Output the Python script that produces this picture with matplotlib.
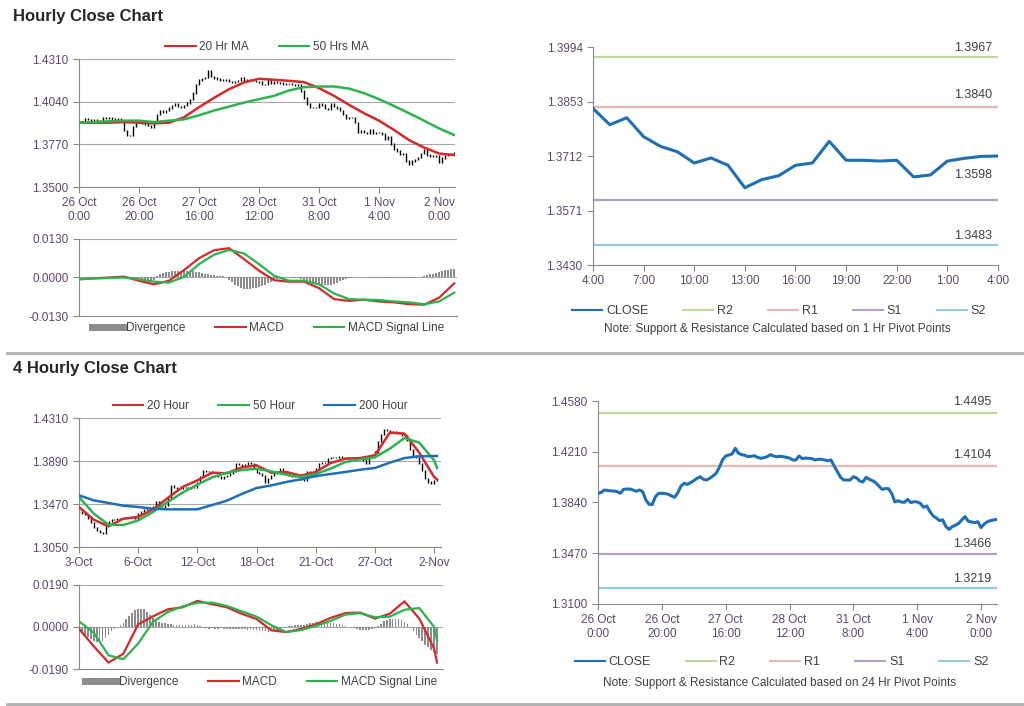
import numpy as np
import matplotlib
matplotlib.use("Agg")
import matplotlib.pyplot as plt
from matplotlib.lines import Line2D
import matplotlib.transforms as mtransforms

plt.rcParams["font.family"] = ["Liberation Sans", "DejaVu Sans"]
plt.rcParams["font.size"] = 8

# ---------------- data ----------------
# hourly close, 26 Oct 0:00 .. 2 Nov 5:00 (one value per hour)
hourly_close = [
    1.3907, 1.3914, 1.3931, 1.3928, 1.3924, 1.3924, 1.3919, 1.3907, 1.3936, 1.3938,
    1.3938, 1.3931, 1.3922, 1.3931, 1.3919, 1.3858, 1.3827, 1.3825, 1.3883, 1.3907,
    1.3907, 1.3905, 1.3900, 1.3888, 1.3878, 1.3912, 1.3960, 1.3980, 1.3972, 1.3985,
    1.3999, 1.4016, 1.4028, 1.4009, 1.4004, 1.4016, 1.4033, 1.4053, 1.4096, 1.4150,
    1.4179, 1.4186, 1.4194, 1.4235, 1.4199, 1.4189, 1.4184, 1.4174, 1.4177, 1.4181,
    1.4169, 1.4162, 1.4167, 1.4174, 1.4189, 1.4179, 1.4174, 1.4177, 1.4174, 1.4169,
    1.4164, 1.4150, 1.4150, 1.4179, 1.4160, 1.4164, 1.4162, 1.4160, 1.4150, 1.4155,
    1.4155, 1.4150, 1.4145, 1.4150, 1.4106, 1.4065, 1.4024, 1.4004, 1.4004, 1.4004,
    1.4028, 1.4019, 1.3997, 1.3990, 1.4024, 1.4009, 1.3999, 1.3985, 1.3960, 1.3936,
    1.3941, 1.3941, 1.3907, 1.3844, 1.3853, 1.3844, 1.3841, 1.3863, 1.3839, 1.3846,
    1.3844, 1.3834, 1.3805, 1.3815, 1.3773, 1.3742, 1.3727, 1.3708, 1.3713, 1.3664,
    1.3644, 1.3664, 1.3674, 1.3688, 1.3713, 1.3737, 1.3703, 1.3698, 1.3693, 1.3700,
    1.3657, 1.3683, 1.3700, 1.3708, 1.3713, 1.3717,
]
# moving averages / MACD sampled every 5 hourly bars (bars 0..125)
ma20_hr = [1.3907, 1.3907, 1.3907, 1.3911, 1.3907, 1.3903, 1.3907, 1.3941, 1.4005, 1.4064,
           1.4119, 1.4162, 1.4185, 1.4179, 1.4172, 1.4164, 1.4126, 1.4077, 1.4020, 1.3967,
           1.3920, 1.3861, 1.3797, 1.3750, 1.3712, 1.3702]
ma50_hr = [1.3907, 1.3911, 1.3916, 1.3920, 1.3920, 1.3911, 1.3920, 1.3928, 1.3954, 1.3984,
           1.4009, 1.4034, 1.4056, 1.4077, 1.4111, 1.4132, 1.4136, 1.4136, 1.4123, 1.4094,
           1.4056, 1.4013, 1.3967, 1.3920, 1.3871, 1.3829]
macd_hr = [-0.0006, -0.0003, 0.0000, 0.0003, -0.0011, -0.0023, -0.0011, 0.0025, 0.0065, 0.0092,
           0.0099, 0.0062, 0.0023, -0.0009, -0.0014, -0.0014, -0.0036, -0.0073, -0.0079, -0.0075,
           -0.0081, -0.0084, -0.0090, -0.0092, -0.0068, -0.0020]
signal_hr = [-0.0006, -0.0003, -0.0002, 0.0000, -0.0006, -0.0014, -0.0017, 0.0002, 0.0045, 0.0077,
             0.0093, 0.0081, 0.0045, 0.0006, -0.0011, -0.0011, -0.0023, -0.0054, -0.0073, -0.0075,
             -0.0076, -0.0081, -0.0084, -0.0090, -0.0081, -0.0051]
diverg_hr = [
    0.0001, 0.0001, 0.0000, 0.0001, 0.0001, 0.0000, 0.0001, 0.0001, 0.0000, 0.0001,
    0.0001, 0.0002, 0.0002, 0.0002, 0.0001, -0.0002, -0.0004, -0.0004, -0.0003, -0.0002,
    -0.0003, -0.0005, -0.0007, -0.0009, -0.0010, -0.0008, 0.0004, 0.0012, 0.0016, 0.0018,
    0.0020, 0.0021, 0.0022, 0.0022, 0.0023, 0.0023, 0.0022, 0.0022, 0.0021, 0.0020,
    0.0018, 0.0015, 0.0013, 0.0011, 0.0009, 0.0007, 0.0006, 0.0005, 0.0004, 0.0001,
    -0.0008, -0.0016, -0.0024, -0.0030, -0.0034, -0.0038, -0.0039, -0.0038, -0.0036, -0.0034,
    -0.0031, -0.0028, -0.0024, -0.0020, -0.0015, -0.0010, -0.0006, -0.0003, -0.0001, 0.0000,
    0.0000, -0.0001, -0.0001, -0.0003, -0.0006, -0.0010, -0.0013, -0.0016, -0.0019, -0.0021,
    -0.0023, -0.0025, -0.0026, -0.0027, -0.0026, -0.0023, -0.0018, -0.0012, -0.0008, -0.0005,
    -0.0003, -0.0002, 0.0001, 0.0002, 0.0002, 0.0001, 0.0001, -0.0001, -0.0001, -0.0002,
    -0.0002, -0.0001, -0.0002, -0.0002, -0.0001, -0.0002, -0.0003, -0.0002, -0.0003, -0.0002,
    -0.0003, -0.0002, -0.0001, 0.0000, 0.0002, 0.0005, 0.0008, 0.0011, 0.0013, 0.0016,
    0.0019, 0.0022, 0.0024, 0.0026, 0.0027, 0.0028,
]
hourly_labels = ["26 Oct\n0:00", "26 Oct\n20:00", "27 Oct\n16:00", "28 Oct\n12:00",
                 "31 Oct\n8:00", "1 Nov\n4:00", "2 Nov\n0:00"]

# last 24 hours close + 1 hr pivot levels
close_24h = [1.3835, 1.3793, 1.3811, 1.3762, 1.3737, 1.3723, 1.3694, 1.3707, 1.3688, 1.3630,
             1.3651, 1.3661, 1.3688, 1.3694, 1.3750, 1.3701, 1.3701, 1.3699, 1.3701, 1.3658,
             1.3663, 1.3699, 1.3706, 1.3711, 1.3712]
labels_24h = ["4:00", "7:00", "10:00", "13:00", "16:00", "19:00", "22:00", "1:00", "4:00"]
yticks_24h = [1.3430, 1.3571, 1.3712, 1.3853, 1.3994]
pivots_1hr = [1.3967, 1.3840, 1.3598, 1.3483]
yticks_hr_pivot = [1.3100, 1.3470, 1.3840, 1.4210, 1.4580]
pivots_24hr = [1.4495, 1.4104, 1.3466, 1.3219]
pivot_names = ["R2", "R1", "S1", "S2"]

# 4 hourly close, 3 Oct .. 2 Nov
close_4h = [
    1.3392, 1.3380, 1.3366, 1.3330, 1.3290, 1.3245, 1.3210, 1.3196, 1.3180, 1.3262,
    1.3300, 1.3315, 1.3320, 1.3327, 1.3333, 1.3333, 1.3340, 1.3343, 1.3335, 1.3327,
    1.3380, 1.3400, 1.3420, 1.3424, 1.3430, 1.3441, 1.3490, 1.3424, 1.3440, 1.3457,
    1.3522, 1.3652, 1.3630, 1.3620, 1.3625, 1.3636, 1.3630, 1.3620, 1.3630, 1.3636,
    1.3680, 1.3734, 1.3799, 1.3790, 1.3783, 1.3780, 1.3776, 1.3740, 1.3717, 1.3735,
    1.3750, 1.3766, 1.3783, 1.3864, 1.3855, 1.3848, 1.3860, 1.3874, 1.3864, 1.3815,
    1.3780, 1.3766, 1.3750, 1.3685, 1.3720, 1.3750, 1.3766, 1.3790, 1.3815, 1.3790,
    1.3766, 1.3750, 1.3734, 1.3740, 1.3750, 1.3710, 1.3701, 1.3783, 1.3760, 1.3734,
    1.3815, 1.3864, 1.3875, 1.3880, 1.3913, 1.3929, 1.3925, 1.3929, 1.3935, 1.3929,
    1.3925, 1.3929, 1.3925, 1.3919, 1.3925, 1.3929, 1.3900, 1.3864, 1.3929, 1.3950,
    1.3978, 1.4076, 1.4150, 1.4199, 1.4190, 1.4173, 1.4180, 1.4173, 1.4165, 1.4141,
    1.4141, 1.4090, 1.4000, 1.3945, 1.3920, 1.3864, 1.3799, 1.3720, 1.3685, 1.3669,
    1.3701, 1.3705,
]
# sampled at bars 0, 5, ..., 120 and the last bar 121
ma20_4h = [1.3441, 1.3317, 1.3252, 1.3327, 1.3343, 1.3418, 1.3529, 1.3636, 1.3701, 1.3776,
           1.3770, 1.3828, 1.3848, 1.3776, 1.3783, 1.3747, 1.3783, 1.3870, 1.3913, 1.3919,
           1.3945, 1.4167, 1.4157, 1.3971, 1.3734, 1.3711]
ma50_4h = [1.3538, 1.3376, 1.3268, 1.3265, 1.3310, 1.3392, 1.3490, 1.3581, 1.3659, 1.3730,
           1.3776, 1.3802, 1.3815, 1.3789, 1.3756, 1.3734, 1.3763, 1.3815, 1.3880, 1.3906,
           1.3926, 1.4010, 1.4115, 1.4069, 1.3897, 1.3822]
ma200_4h = [1.3555, 1.3506, 1.3480, 1.3454, 1.3441, 1.3424, 1.3418, 1.3418, 1.3418, 1.3460,
            1.3503, 1.3568, 1.3626, 1.3652, 1.3685, 1.3711, 1.3743, 1.3763, 1.3783, 1.3805,
            1.3822, 1.3874, 1.3919, 1.3936, 1.3939, 1.3939]
macd_4h = [-0.0008, -0.0087, -0.0161, -0.0121, 0.0012, 0.0048, 0.0080, 0.0089, 0.0118, 0.0103,
           0.0089, 0.0060, 0.0036, -0.0015, -0.0023, -0.0009, 0.0012, 0.0041, 0.0063, 0.0065,
           0.0038, 0.0060, 0.0116, 0.0038, -0.0098, -0.0161]
signal_4h = [0.0026, -0.0026, -0.0128, -0.0146, -0.0075, 0.0023, 0.0068, 0.0093, 0.0110, 0.0110,
             0.0095, 0.0071, 0.0047, 0.0008, -0.0023, -0.0014, 0.0005, 0.0027, 0.0056, 0.0063,
             0.0044, 0.0047, 0.0078, 0.0086, 0.0000, -0.0060]
diverg_4h = [
    -0.0010, -0.0022, -0.0035, -0.0045, -0.0055, -0.0062, -0.0068, -0.0068, -0.0065, -0.0050,
    -0.0035, -0.0020, -0.0008, 0.0002, 0.0010, 0.0020, 0.0035, 0.0050, 0.0065, 0.0075,
    0.0082, 0.0083, 0.0080, 0.0070, 0.0055, 0.0040, 0.0028, 0.0022, 0.0018, 0.0016,
    0.0014, 0.0012, 0.0010, 0.0010, 0.0009, 0.0010, 0.0009, 0.0010, 0.0011, 0.0012,
    0.0008, 0.0003, -0.0004, -0.0006, -0.0007, -0.0006, -0.0008, -0.0007, -0.0006, -0.0008,
    -0.0009, -0.0010, -0.0009, -0.0008, -0.0010, -0.0011, -0.0010, -0.0012, -0.0011, -0.0012,
    -0.0014, -0.0016, -0.0018, -0.0020, -0.0021, -0.0020, -0.0018, -0.0014, -0.0008, -0.0003,
    0.0002, 0.0004, 0.0006, 0.0007, 0.0008, 0.0008, 0.0010, 0.0014, 0.0018, 0.0020,
    0.0022, 0.0023, 0.0023, 0.0022, 0.0020, 0.0018, 0.0016, 0.0014, 0.0012, 0.0010,
    0.0006, 0.0002, -0.0003, -0.0006, -0.0009, -0.0012, -0.0014, -0.0015, -0.0013, -0.0010,
    -0.0004, 0.0005, 0.0015, 0.0025, 0.0032, 0.0036, 0.0038, 0.0038, 0.0036, 0.0030,
    0.0022, 0.0012, -0.0002, -0.0018, -0.0035, -0.0050, -0.0065, -0.0080, -0.0092, -0.0102,
    -0.0112, -0.0120,
]
labels_4h = ["3-Oct", "6-Oct", "12-Oct", "18-Oct", "21-Oct", "27-Oct", "2-Nov"]

# ---------------- style ----------------
RED = "#d42a2a"
GREEN = "#2db24f"
BLUE = "#1f6fb5"
DIV = "#8c8c8c"
GRID = "#a8a8a8"
SPINE = "#8a8a8a"
TXT = "#5a4868"
PIVOT_COLORS = ["#c3d69b", "#e6b9b8", "#b3a2c7", "#93cddd"]


def style_axes(ax):
    for side in ("top", "right"):
        ax.spines[side].set_visible(False)
    for side in ("left", "bottom"):
        ax.spines[side].set_color(SPINE)
    ax.tick_params(colors=SPINE, labelcolor=TXT, labelsize=8.5, length=4, direction="out")


def draw_bars(ax, close):
    close = np.asarray(close)
    opens = np.r_[close[0], close[:-1]]
    x = np.arange(len(close))
    lo = np.minimum(opens, close) - 0.0005
    hi = np.maximum(opens, close) + 0.0005
    ax.vlines(x, lo, hi, color="black", lw=1.0, zorder=2)


def price_panel(ax, close, ma_x, mas, colors, names, yticks, xlabels, xmax):
    style_axes(ax)
    draw_bars(ax, close)
    for vals, col in zip(mas, colors):
        ax.plot(ma_x, vals, color=col, lw=1.8, zorder=3)
    ax.set_ylim(yticks[-1], yticks[0])
    ax.set_yticks(yticks)
    ax.set_yticklabels([f"{v:.4f}" for v in yticks])
    ax.yaxis.grid(True, color=GRID, lw=0.8)
    ax.set_axisbelow(True)
    ax.set_xlim(0, xmax)
    ax.set_xticks(np.arange(0, 20 * len(xlabels), 20))
    ax.set_xticklabels(xlabels)
    handles = [Line2D([], [], color=c, lw=1.5) for c in colors]
    ax.legend(handles, names, loc="center", bbox_to_anchor=(0.5, 1.094), ncol=len(names),
              frameon=False, fontsize=8.5, handlelength=2.6, columnspacing=2.5,
              handletextpad=0.3, labelcolor="#404040")


def macd_panel(ax, ma_x, macd, signal, diverg, lim, xmax):
    style_axes(ax)
    ax.bar(np.arange(len(diverg)), diverg, width=0.55, color=DIV, zorder=2)
    ax.plot(ma_x, macd, color=RED, lw=1.6, zorder=3)
    ax.plot(ma_x, signal, color=GREEN, lw=1.6, zorder=3)
    ax.set_ylim(-lim, lim)
    ax.set_yticks([lim, 0, -lim])
    ax.set_yticklabels([f"{v:.4f}" for v in [lim, 0.0, -lim]])
    ax.yaxis.grid(True, color=GRID, lw=0.8)
    ax.set_axisbelow(True)
    ax.set_xlim(0, xmax)
    ax.tick_params(axis="x", bottom=False, labelbottom=False)
    handles = [Line2D([], [], color=DIV, lw=5), Line2D([], [], color=RED, lw=1.5),
               Line2D([], [], color=GREEN, lw=1.5)]
    ax.legend(handles, ["Divergence", "MACD", "MACD Signal Line"], loc="center",
              bbox_to_anchor=(0.5, -0.16), ncol=3, frameon=False, fontsize=8.5,
              handlelength=2.6, columnspacing=2.5, handletextpad=0.3, labelcolor="#404040")


def pivot_panel(ax, close, pivots, yticks, xticks, xlabels, xmax, offsets, legend_y, note_y, note):
    style_axes(ax)
    ax.plot(np.arange(len(close)), close, color=BLUE, lw=2.2, zorder=3)
    trans = mtransforms.blended_transform_factory(ax.transAxes, ax.transData)
    for val, col, off in zip(pivots, PIVOT_COLORS, offsets):
        ax.axhline(val, color=col, lw=1.6, zorder=2)
        ax.annotate(f"{val:.4f}", xy=(0.985, val), xycoords=trans, xytext=(0, off),
                    textcoords="offset points", ha="right", va="center",
                    fontsize=9, color="#404040")
    ax.set_ylim(yticks[0], yticks[-1])
    ax.set_yticks(yticks)
    ax.set_yticklabels([f"{v:.4f}" for v in yticks])
    ax.set_xlim(0, xmax)
    ax.set_xticks(xticks)
    ax.set_xticklabels(xlabels)
    handles = [Line2D([], [], color=BLUE, lw=1.5)] + \
              [Line2D([], [], color=c, lw=1.5) for c in PIVOT_COLORS]
    ax.legend(handles, ["CLOSE"] + pivot_names, loc="center", bbox_to_anchor=(0.46, legend_y),
              ncol=5, frameon=False, fontsize=9, handlelength=2.4, columnspacing=2.8,
              handletextpad=0.3, labelcolor="#404040")
    ax.text(0.455, note_y, note, transform=ax.transAxes, ha="center", va="center",
            fontsize=8.5, color="#404040")


fig = plt.figure(figsize=(10.24, 7.06), dpi=100)

fig.text(13 / 1024, 1 - 17 / 706, "Hourly Close Chart", fontsize=12, fontweight="bold",
         color="#262626", va="center")
fig.text(13 / 1024, 1 - 369 / 706, "4 Hourly Close Chart", fontsize=12, fontweight="bold",
         color="#262626", va="center")
for ypix in (353, 704):
    fig.add_artist(Line2D([7 / 1024, 1.0], [1 - ypix / 706] * 2, color="#b0b0b0", lw=2))

# hourly price
ax1 = fig.add_axes([0.0771, 0.7351, 0.3672, 0.1813])
hr_x = np.arange(0, len(hourly_close), 5)
price_panel(ax1, hourly_close, hr_x, [ma20_hr, ma50_hr], [RED, GREEN],
            ["20 Hr MA", "50 Hrs MA"], [1.4310, 1.4040, 1.3770, 1.3500], hourly_labels, 125.3)

ax2 = fig.add_axes([0.0771, 0.5524, 0.3691, 0.1091])
macd_panel(ax2, hr_x, macd_hr, signal_hr, diverg_hr, 0.0130, 125.9)

# 1 hr pivots
ax3 = fig.add_axes([0.5791, 0.6246, 0.3955, 0.3088])
pivot_panel(ax3, close_24h, pivots_1hr, yticks_24h, np.arange(0, 25, 3), labels_24h, 24,
            [7, 8, 18, 6], -0.211, -0.294,
            "Note: Support & Resistance Calculated based on 1 Hr Pivot Points")

# 4 hourly price
ax4 = fig.add_axes([0.0771, 0.2252, 0.3535, 0.1827])
h4_x = np.append(np.arange(0, 121, 5), len(close_4h) - 1)
price_panel(ax4, close_4h, h4_x, [ma20_4h, ma50_4h, ma200_4h], [RED, GREEN, BLUE],
            ["20 Hour", "50 Hour", "200 Hour"], [1.4310, 1.3890, 1.3470, 1.3050], labels_4h, 122.3)

ax5 = fig.add_axes([0.0771, 0.0524, 0.3555, 0.1190])
macd_panel(ax5, h4_x, macd_4h, signal_4h, diverg_4h, 0.0190, 123.0)

# 24 hr pivots
ax6 = fig.add_axes([0.5840, 0.1445, 0.3896, 0.2875])
pivot_panel(ax6, hourly_close, pivots_24hr, yticks_hr_pivot, np.arange(0, 121, 20), hourly_labels,
            125, [8, 8, 7, 6], -0.286, -0.389,
            "Note: Support & Resistance Calculated based on 24 Hr Pivot Points")

fig.savefig("out.png", dpi=100, facecolor="white")
